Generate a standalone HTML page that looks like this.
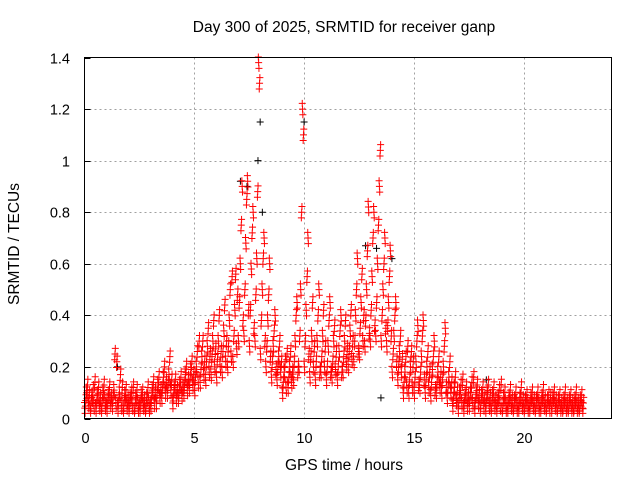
<!DOCTYPE html>
<html><head><meta charset="utf-8"><style>
body{margin:0;background:#fff}
svg{display:block;font-family:"Liberation Sans",sans-serif}
</style></head><body>
<svg id="chart" width="640" height="480" viewBox="0 0 640 480">
<rect width="640" height="480" fill="#fff"/>
<g id="grid"></g>
<g id="marks"></g>
<rect x="84.5" y="57.5" width="527" height="361" fill="none" stroke="#000" stroke-width="1"/>
<g id="ticks" font-size="14.5" fill="#000"></g>
<text x="344" y="32" font-size="15.5" text-anchor="middle">Day 300 of 2025, SRMTID for receiver ganp</text>
<text x="344" y="470" font-size="15.5" text-anchor="middle">GPS time / hours</text>
<text transform="translate(19,244) rotate(-90)" font-size="15.5" text-anchor="middle">SRMTID / TECUs</text>
</svg>
<script>
const xTicks=[0,5,10,15,20];
const yTicks=[0,0.2,0.4,0.6,0.8,1,1.2,1.4];
const yTickLabels=["0","0.2","0.4","0.6","0.8","1","1.2","1.4"];
const binStart=0.0, binWidth=0.25;
// values per 0.25 h bin
const redValues=[
[0.04,0.07,0.1,0.13,0.06,0.09],[0.03,0.06,0.08,0.11,0.05,0.14],[0.04,0.07,0.09,0.12,0.05,0.08],[0.03,0.06,0.1,0.13,0.07,0.05],
[0.04,0.07,0.09,0.12,0.06,0.08],[0.05,0.08,0.11,0.25,0.06,0.22],[0.04,0.07,0.1,0.17,0.05,0.12],[0.03,0.06,0.09,0.11,0.05,0.07],
[0.04,0.06,0.08,0.1,0.05,0.12],[0.03,0.05,0.08,0.11,0.06,0.04],[0.04,0.06,0.09,0.1,0.05,0.07],[0.03,0.05,0.08,0.12,0.06,0.04],
[0.05,0.08,0.11,0.14,0.06,0.1],[0.06,0.09,0.13,0.16,0.08,0.11],[0.08,0.12,0.16,0.2,0.1,0.14],[0.1,0.13,0.17,0.24,0.11,0.15],
[0.06,0.09,0.12,0.15,0.08,0.11],[0.08,0.1,0.13,0.16,0.09,0.12],[0.1,0.13,0.17,0.2,0.11,0.15],[0.12,0.15,0.19,0.22,0.13,0.17],
[0.11,0.16,0.2,0.26,0.14,0.3],[0.14,0.19,0.24,0.3,0.17,0.22],[0.15,0.22,0.28,0.35,0.18,0.25],[0.17,0.24,0.3,0.38,0.2,0.27],
[0.16,0.23,0.3,0.4,0.2,0.26],[0.18,0.26,0.34,0.44,0.22,0.3],[0.2,0.28,0.38,0.5,0.24,0.55],[0.22,0.32,0.42,0.56,0.27,0.48],
[0.3,0.45,0.6,0.75,0.9,0.38],[0.32,0.5,0.68,0.85,0.92,0.42],[0.28,0.42,0.58,0.72,0.8,0.35],[0.3,0.48,0.62,0.88,1.38,1.3],
[0.25,0.38,0.5,0.62,0.7,0.3],[0.2,0.28,0.38,0.48,0.6,0.24],[0.16,0.22,0.28,0.34,0.4,0.19],[0.15,0.2,0.24,0.3,0.18,0.22],
[0.1,0.14,0.18,0.22,0.12,0.25],[0.12,0.16,0.2,0.26,0.14,0.18],[0.15,0.22,0.3,0.4,0.45,0.18],[0.2,0.32,0.5,0.8,1.2,1.1],
[0.2,0.3,0.42,0.55,0.7,0.25],[0.16,0.24,0.32,0.45,0.2,0.28],[0.15,0.22,0.3,0.4,0.5,0.18],[0.18,0.24,0.32,0.42,0.2,0.28],
[0.15,0.2,0.28,0.38,0.45,0.18],[0.16,0.22,0.3,0.36,0.19,0.26],[0.15,0.2,0.26,0.34,0.4,0.18],[0.18,0.24,0.3,0.38,0.21,0.27],
[0.2,0.26,0.34,0.42,0.23,0.3],[0.22,0.3,0.4,0.5,0.62,0.26],[0.25,0.35,0.45,0.56,0.3,0.4],[0.28,0.38,0.5,0.65,0.82,0.33],
[0.3,0.42,0.55,0.7,0.8,0.36],[0.32,0.45,0.6,0.75,0.9,1.04],[0.3,0.4,0.5,0.6,0.7,0.35],[0.28,0.36,0.45,0.55,0.65,0.32],
[0.18,0.25,0.32,0.4,0.45,0.22],[0.15,0.2,0.26,0.32,0.18,0.23],[0.1,0.14,0.18,0.24,0.12,0.28],[0.1,0.15,0.2,0.26,0.12,0.22],
[0.1,0.16,0.22,0.3,0.36,0.13],[0.12,0.18,0.24,0.32,0.38,0.15],[0.1,0.15,0.2,0.26,0.12,0.18],[0.09,0.14,0.19,0.24,0.3,0.11],
[0.1,0.14,0.18,0.24,0.12,0.16],[0.1,0.15,0.2,0.28,0.35,0.12],[0.08,0.12,0.16,0.22,0.1,0.14],[0.05,0.08,0.12,0.16,0.07,0.1],
[0.04,0.07,0.1,0.13,0.06,0.15],[0.04,0.07,0.09,0.12,0.05,0.08],[0.05,0.08,0.1,0.14,0.06,0.16],[0.04,0.07,0.1,0.13,0.06,0.09],
[0.04,0.06,0.09,0.12,0.05,0.08],[0.04,0.07,0.1,0.13,0.05,0.08],[0.03,0.06,0.09,0.12,0.05,0.07],[0.04,0.06,0.08,0.11,0.05,0.13],
[0.03,0.05,0.08,0.1,0.06,0.04],[0.04,0.06,0.08,0.11,0.05,0.07],[0.03,0.05,0.07,0.1,0.06,0.04],[0.04,0.06,0.08,0.12,0.05,0.07],
[0.03,0.05,0.07,0.09,0.06,0.04],[0.04,0.06,0.08,0.1,0.05,0.07],[0.03,0.05,0.07,0.1,0.06,0.04],[0.04,0.06,0.08,0.11,0.05,0.07],
[0.03,0.05,0.07,0.09,0.04,0.08],[0.04,0.06,0.08,0.1,0.05,0.07],[0.03,0.05,0.07,0.09,0.04,0.06],[0.03,0.05,0.07,0.1,0.04,0.06],
[0.03,0.05,0.07,0.09,0.04,0.06],[0.03,0.05,0.07,0.1,0.04,0.06],[0.03,0.05,0.07,0.09,0.04,0.06]
];
const blackTimes=[7.1,7.4,7.9,8.0,8.1,10.0,12.8,13.3,13.5,14.0,1.5,18.3];
const blackValues=[0.92,0.9,1.0,1.15,0.8,1.15,0.67,0.66,0.08,0.62,0.2,0.15];

const X0=84.5,X1=611.5,Y0=418.5,Y1=57.5;
const xs=v=>X0+(v/24)*(X1-X0);
const ys=v=>Y0-(v/1.4)*(Y0-Y1);
const NS="http://www.w3.org/2000/svg";
const grid=document.getElementById('grid'),ticks=document.getElementById('ticks'),marks=document.getElementById('marks');
function mk(t,a,p){const e=document.createElementNS(NS,t);for(const k in a)e.setAttribute(k,a[k]);p.appendChild(e);return e;}
xTicks.forEach(t=>{
  const x=Math.round(xs(t))+0.5;
  if(t>0){const g=mk('line',{x1:x,x2:x,y1:Y1,y2:Y0,stroke:'#a0a0a0','stroke-dasharray':'2,3'},grid);
  
  }
  const l=mk('text',{x:x,y:443,'text-anchor':'middle'},ticks);l.textContent=t;
  
  
});
yTicks.forEach((t,i)=>{
  const y=Math.round(ys(t))+0.5;
  if(t>0&&t<1.4){const g=mk('line',{x1:X0,x2:X1,y1:y,y2:y,stroke:'#a0a0a0','stroke-dasharray':'2,3'},grid);
  
  }
  mk('line',{x1:X0,x2:X0+6,y1:y,y2:y,stroke:'#000'},ticks);
  const l=mk('text',{x:70,y:y+5,'text-anchor':'end'},ticks);l.textContent=yTickLabels[i];
  
  
});
function cross(x,y,c){
  const p=mk('path',{d:`M${x-3.5},${y}h7M${x},${y-3.5}v7`,stroke:c,'stroke-width':1},marks);
  
  
}
blackTimes.forEach((t,i)=>cross(xs(t),ys(blackValues[i]),'#000'));
redValues.forEach((row,b)=>{
  row.forEach((v,j)=>{
    for(let k=0;k<3;k++){
      const t=binStart+b*binWidth+((j*3+k)/18)*binWidth;
      const dv=(k-1)*0.022*((j%2)?1:-1);
      cross(xs(t),ys(Math.max(0.02,v+dv)),'#f00');
    }
  });
});
</script>
</body></html>
